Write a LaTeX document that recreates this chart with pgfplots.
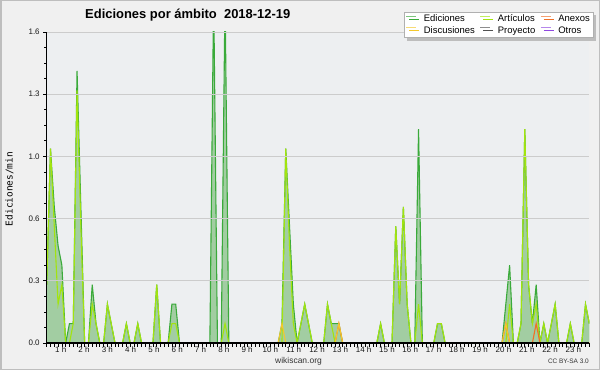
\documentclass[border=0pt]{standalone}
\usepackage{pgfplots}
\pgfplotsset{compat=1.18}
\usepackage{pgfplotstable}
\usepackage{fontspec}
\setmainfont{Liberation Sans}
\newfontfamily\monofont{DejaVu Sans Mono}
\usetikzlibrary{shadows}
\definecolor{outerbg}{HTML}{F0F0F0}
\definecolor{plotbg}{HTML}{EDEFF1}
\definecolor{bordercol}{HTML}{BEBEBE}
\definecolor{gridcol}{HTML}{CCCCCC}
\definecolor{efill}{HTML}{A2CDA2}
\definecolor{eline}{HTML}{3AAA3A}
\definecolor{aline}{HTML}{A2E40E}
\definecolor{nline}{HTML}{F07028}
\definecolor{dline}{HTML}{F4C82C}
\definecolor{pline}{HTML}{505050}
\definecolor{oline}{HTML}{9048E0}
\definecolor{legborder}{HTML}{B0B0B0}
\definecolor{shadowcol}{HTML}{BDBDBD}

\pgfplotstableread{
i E A N D P O
0 0.3 0.3 0 0 0 0
1 1.0 1.0 0 0 0 0
2 0.7 0.6 0 0 0 0
3 0.5 0.2 0 0 0 0
4 0.4 0.3 0 0 0 0
5 0 0 0 0 0 0
6 0.1 0 0 0 0 0
7 0.1 0.1 0 0 0 0
8 1.4 1.3 0 0 0 0
9 0.7 0.6 0 0 0 0
10 0 0 0 0 0 0
11 0 0 0 0 0 0
12 0.3 0.2 0 0 0 0
13 0.1 0.1 0 0 0 0
14 0 0 0 0 0 0
15 0 0 0 0 0 0
16 0.2 0.2 0 0 0 0
17 0.1 0.1 0 0 0 0
18 0 0 0 0 0 0
19 0 0 0 0 0 0
20 0 0 0 0 0 0
21 0.1 0.1 0 0 0 0
22 0 0 0 0 0 0
23 0 0 0 0 0 0
24 0.1 0.1 0 0 0 0
25 0 0 0 0 0 0
26 0 0 0 0 0 0
27 0 0 0 0 0 0
28 0 0 0 0 0 0
29 0.3 0.3 0 0 0 0
30 0 0 0 0 0 0
31 0 0 0 0 0 0
32 0 0 0 0 0 0
33 0.2 0.1 0 0 0 0
34 0.2 0.1 0 0 0 0
35 0 0 0 0 0 0
36 0 0 0 0 0 0
37 0 0 0 0 0 0
38 0 0 0 0 0 0
39 0 0 0 0 0 0
40 0 0 0 0 0 0
41 0 0 0 0 0 0
42 0 0 0 0 0 0
43 0 0 0 0 0 0
44 1.8 0 0 0 0 0
45 0 0 0 0 0 0
46 0 0 0 0 0 0
47 1.8 0.1 0 0 0 0
48 0 0 0 0 0 0
49 0 0 0 0 0 0
50 0 0 0 0 0 0
51 0 0 0 0 0 0
52 0 0 0 0 0 0
53 0 0 0 0 0 0
54 0 0 0 0 0 0
55 0 0 0 0 0 0
56 0 0 0 0 0 0
57 0 0 0 0 0 0
58 0 0 0 0 0 0
59 0 0 0 0 0 0
60 0 0 0 0 0 0
61 0 0 0 0 0 0
62 0.1 0 0 0.1 0 0
63 1.0 1.0 0 0 0 0
64 0.6 0.5 0 0 0 0
65 0.2 0.1 0 0 0 0
66 0 0 0 0 0 0
67 0.1 0.1 0 0 0 0
68 0.2 0.2 0 0 0 0
69 0.1 0.1 0 0 0 0
70 0 0 0 0 0 0
71 0 0 0 0 0 0
72 0 0 0 0 0 0
73 0 0 0 0 0 0
74 0.2 0.2 0 0 0 0
75 0.1 0.1 0 0 0 0
76 0.1 0 0 0 0 0
77 0.1 0 0.1 0.1 0 0
78 0 0 0 0 0 0
79 0 0 0 0 0 0
80 0 0 0 0 0 0
81 0 0 0 0 0 0
82 0 0 0 0 0 0
83 0 0 0 0 0 0
84 0 0 0 0 0 0
85 0 0 0 0 0 0
86 0 0 0 0 0 0
87 0 0 0 0 0 0
88 0.1 0.1 0 0 0 0
89 0 0 0 0 0 0
90 0 0 0 0 0 0
91 0 0 0 0 0 0
92 0.6 0.6 0 0 0 0
93 0.2 0.2 0 0 0 0
94 0.7 0.7 0 0 0 0
95 0.2 0.2 0 0 0 0
96 0 0 0 0 0 0
97 0 0 0 0 0 0
98 1.1 0.2 0 0 0 0
99 0 0 0 0 0 0
100 0 0 0 0 0 0
101 0 0 0 0 0 0
102 0 0 0 0 0 0
103 0.1 0.1 0 0 0 0
104 0.1 0.1 0 0 0 0
105 0 0 0 0 0 0
106 0 0 0 0 0 0
107 0 0 0 0 0 0
108 0 0 0 0 0 0
109 0 0 0 0 0 0
110 0 0 0 0 0 0
111 0 0 0 0 0 0
112 0 0 0 0 0 0
113 0 0 0 0 0 0
114 0 0 0 0 0 0
115 0 0 0 0 0 0
116 0 0 0 0 0 0
117 0 0 0 0 0 0
118 0 0 0 0 0 0
119 0 0 0 0 0 0
120 0 0 0 0 0 0
121 0.2 0 0.1 0.1 0 0
122 0.4 0.2 0 0 0 0
123 0 0 0 0 0 0
124 0 0 0 0 0 0
125 0.1 0.1 0 0 0 0
126 1.1 1.1 0 0 0 0
127 0.3 0.3 0 0 0 0
128 0.1 0.1 0 0 0 0
129 0.3 0.2 0.1 0 0 0
130 0 0 0 0 0 0
131 0.1 0.1 0 0 0 0
132 0 0 0 0 0 0
133 0.1 0.1 0 0 0 0
134 0.2 0.2 0 0 0 0
135 0 0 0 0 0 0
136 0 0 0 0 0 0
137 0 0 0 0 0 0
138 0.1 0.1 0 0 0 0
139 0 0 0 0 0 0
140 0 0 0 0 0 0
141 0 0 0 0 0 0
142 0.2 0.2 0 0 0 0
143 0.1 0.1 0 0 0 0
}\data

\begin{document}
\begin{tikzpicture}
\fill[outerbg] (0,0) rectangle (600bp,370bp);
\draw[bordercol, line width=1.5bp] (0.75bp,0.75bp) rectangle (599.25bp,369.25bp);
\begin{axis}[
  at={(46.7bp,27bp)}, anchor=south west,
  scale only axis, width=542.6bp, height=311bp,
  xmin=0, xmax=143, ymin=0, ymax=1.6,
  axis x line*=bottom, axis y line*=left,
  axis line style={line width=1.2bp, black, -},
  axis background/.style={fill=plotbg},
  axis on top,
  tick align=outside,
  major tick length=3.5bp, minor tick length=2.5bp,
  tick style={black, line width=0.7bp},
  xtick={0,...,143}, xticklabels={},
  extra x ticks={3.69,9.83,15.97,22.11,28.26,34.40,40.54,46.68,52.82,58.96,65.10,71.25,77.39,83.53,89.67,95.81,101.95,108.09,114.24,120.38,126.52,132.66,138.80},
  extra x tick labels={1 h,2 h,3 h,4 h,5 h,6 h,7 h,8 h,9 h,10 h,11 h,12 h,13 h,14 h,15 h,16 h,17 h,18 h,19 h,20 h,21 h,22 h,23 h},
  extra x tick style={major tick length=0pt, tick label style={font=\fontsize{8}{9}\selectfont, text=black!90, yshift=-0.5bp}},
  ytick={0,0.32,0.64,0.96,1.28,1.6},
  yticklabels={0.0,0.3,0.6,1.0,1.3,1.6},
  minor y tick num=3,
  yticklabel style={font=\fontsize{8}{9}\selectfont, text=black!90},
  ymajorgrids, major grid style={gridcol, line width=0.8bp},
  /pgf/number format/assume math mode=true,
  legend columns=3,
  legend cell align=left,
  legend style={at={(1.007,1.064)}, anchor=north east, draw=legborder, fill=white, line width=0.5bp,
    font=\fontsize{9.5}{10}\selectfont, inner xsep=2bp, inner ysep=1.5bp,
    drop shadow={shadow xshift=3bp, shadow yshift=-3bp, fill=shadowcol, opacity=1},
    /tikz/every odd column/.append style={column sep=6bp},
    /tikz/every even column/.append style={column sep=4bp},
    nodes={inner sep=1bp, text height=7bp, text depth=2.2bp}},
  legend image code/.code={\draw[#1, line width=1bp, opacity=0.65] (0bp,3bp) -- (10bp,3bp);},
]
\addplot[draw=none, fill=efill, forget plot] table[x=i,y=E]{\data} \closedcycle;
\addplot[eline, line width=1.1bp] table[x=i,y=E]{\data};
\addlegendentry{Ediciones}
\addplot[aline, line width=1.1bp] table[x=i,y=A]{\data};
\addlegendentry{Artículos}
\addplot[nline, line width=1.1bp] table[x=i,y=N]{\data};
\addlegendentry{Anexos}
\addplot[dline, line width=1.1bp] table[x=i,y=D]{\data};
\addlegendentry{Discusiones}
\addplot[pline, line width=1.1bp] table[x=i,y=P]{\data};
\addlegendentry{Proyecto}
\addplot[oline, line width=1.1bp] table[x=i,y=O]{\data};
\addlegendentry{Otros}
\end{axis}
\node[anchor=base west, inner sep=0, font=\bfseries\fontsize{13}{15}\selectfont] at (85bp,351.7bp) {Ediciones por ámbito\ \ 2018-12-19};
\node[rotate=90, inner sep=0, font=\monofont\fontsize{9.5}{11}\selectfont] at (9.5bp,181bp) {Ediciones/min};
\node[anchor=base west, inner sep=0, font=\fontsize{8.5}{10}\selectfont, text=black!80] at (275bp,6.7bp) {wikiscan.org};
\node[anchor=base east, inner sep=0, font=\fontsize{6.5}{8}\selectfont, text=black!80] at (589bp,6.7bp) {CC BY-SA 3.0};
\pgfresetboundingbox
\useasboundingbox (0,0) rectangle (600bp,370bp);
\end{tikzpicture}
\end{document}
